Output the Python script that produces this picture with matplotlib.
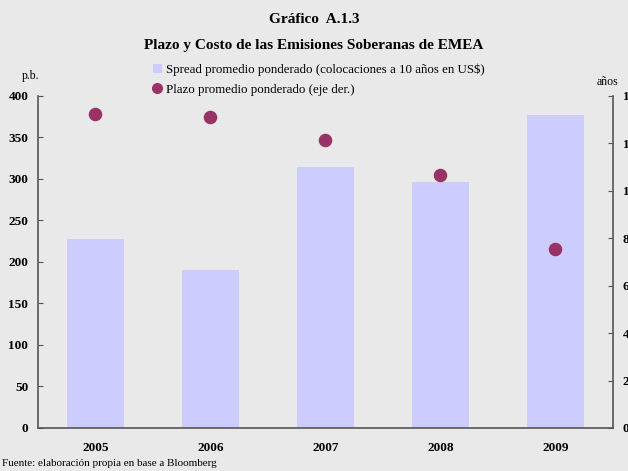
import matplotlib.pyplot as plt
from matplotlib.patches import Patch
from matplotlib.lines import Line2D

plt.rcParams['font.family'] = ['Liberation Serif', 'DejaVu Serif']

anios = ['2005', '2006', '2007', '2008', '2009']
spread = [228, 190, 314, 296, 377]
plazo = [13.25, 13.1, 12.15, 10.65, 7.55]

fondo = '#e9e9e9'
color_barra = '#ccccff'
color_punto = '#993366'

fig = plt.figure(figsize=(6.28, 4.71), dpi=100, facecolor=fondo)
ax = fig.add_axes([0.0605, 0.0913, 0.9155, 0.705])
ax.set_facecolor(fondo)

x = range(len(anios))
ax.bar(x, spread, width=0.5, color=color_barra, zorder=2)
ax.set_xlim(-0.5, 4.5)
ax.set_ylim(0, 400)
ax.set_yticks(range(0, 401, 50))
ax.set_xticks(list(x))
ax.set_xticklabels(anios, fontweight='bold', fontsize=9.5)
ax.tick_params(axis='x', length=0, pad=10)
ax.tick_params(axis='y', direction='in', length=3.5, width=0.8, labelsize=9.5, pad=7, color='#555555')
for lbl in ax.get_yticklabels():
    lbl.set_fontweight('bold')
ax.spines['top'].set_visible(False)
ax.spines['right'].set_visible(False)
for s in ['left', 'bottom']:
    ax.spines[s].set_color('#555555')
    ax.spines[s].set_linewidth(1.2)

# eje derecho: plazo en años
ax2 = ax.twinx()
ax2.scatter(list(x), plazo, s=95, color=color_punto, zorder=3, linewidths=0)
ax2.set_ylim(0, 14)
ax2.set_yticks(range(0, 15, 2))
ax2.tick_params(axis='y', direction='in', length=3.5, width=0.8, labelsize=9.5, pad=7, color='#555555')
for lbl in ax2.get_yticklabels():
    lbl.set_fontweight('bold')
for s in ['top', 'left', 'bottom']:
    ax2.spines[s].set_visible(False)
ax2.spines['right'].set_color('#555555')
ax2.spines['right'].set_linewidth(1.2)

fig.text(0.5, 0.958, 'Gráfico  A.1.3', ha='center', va='center', fontsize=11, fontweight='bold')
fig.text(0.5, 0.903, 'Plazo y Costo de las Emisiones Soberanas de EMEA', ha='center', va='center',
         fontsize=11, fontweight='bold')
fig.text(0.048, 0.838, 'p.b.', ha='center', va='center', fontsize=8.5)
fig.text(0.968, 0.826, 'años', ha='center', va='center', fontsize=8.5)
fig.text(0.003, 0.016, 'Fuente: elaboración propia en base a Bloomberg', ha='left', va='center', fontsize=8)

handles = [Patch(facecolor=color_barra, edgecolor='none'),
           Line2D([], [], marker='o', linestyle='none', color=color_punto, markersize=7)]
etiquetas = ['Spread promedio ponderado (colocaciones a 10 años en US$)',
             'Plazo promedio ponderado (eje der.)']
fig.legend(handles, etiquetas, loc='upper left', bbox_to_anchor=(0.243, 0.865), frameon=False,
           fontsize=9.3, handlelength=0.7, handleheight=0.7, handletextpad=0.3,
           labelspacing=0.6, borderaxespad=0, borderpad=0)

fig.savefig('out.png', dpi=100, facecolor=fondo)
